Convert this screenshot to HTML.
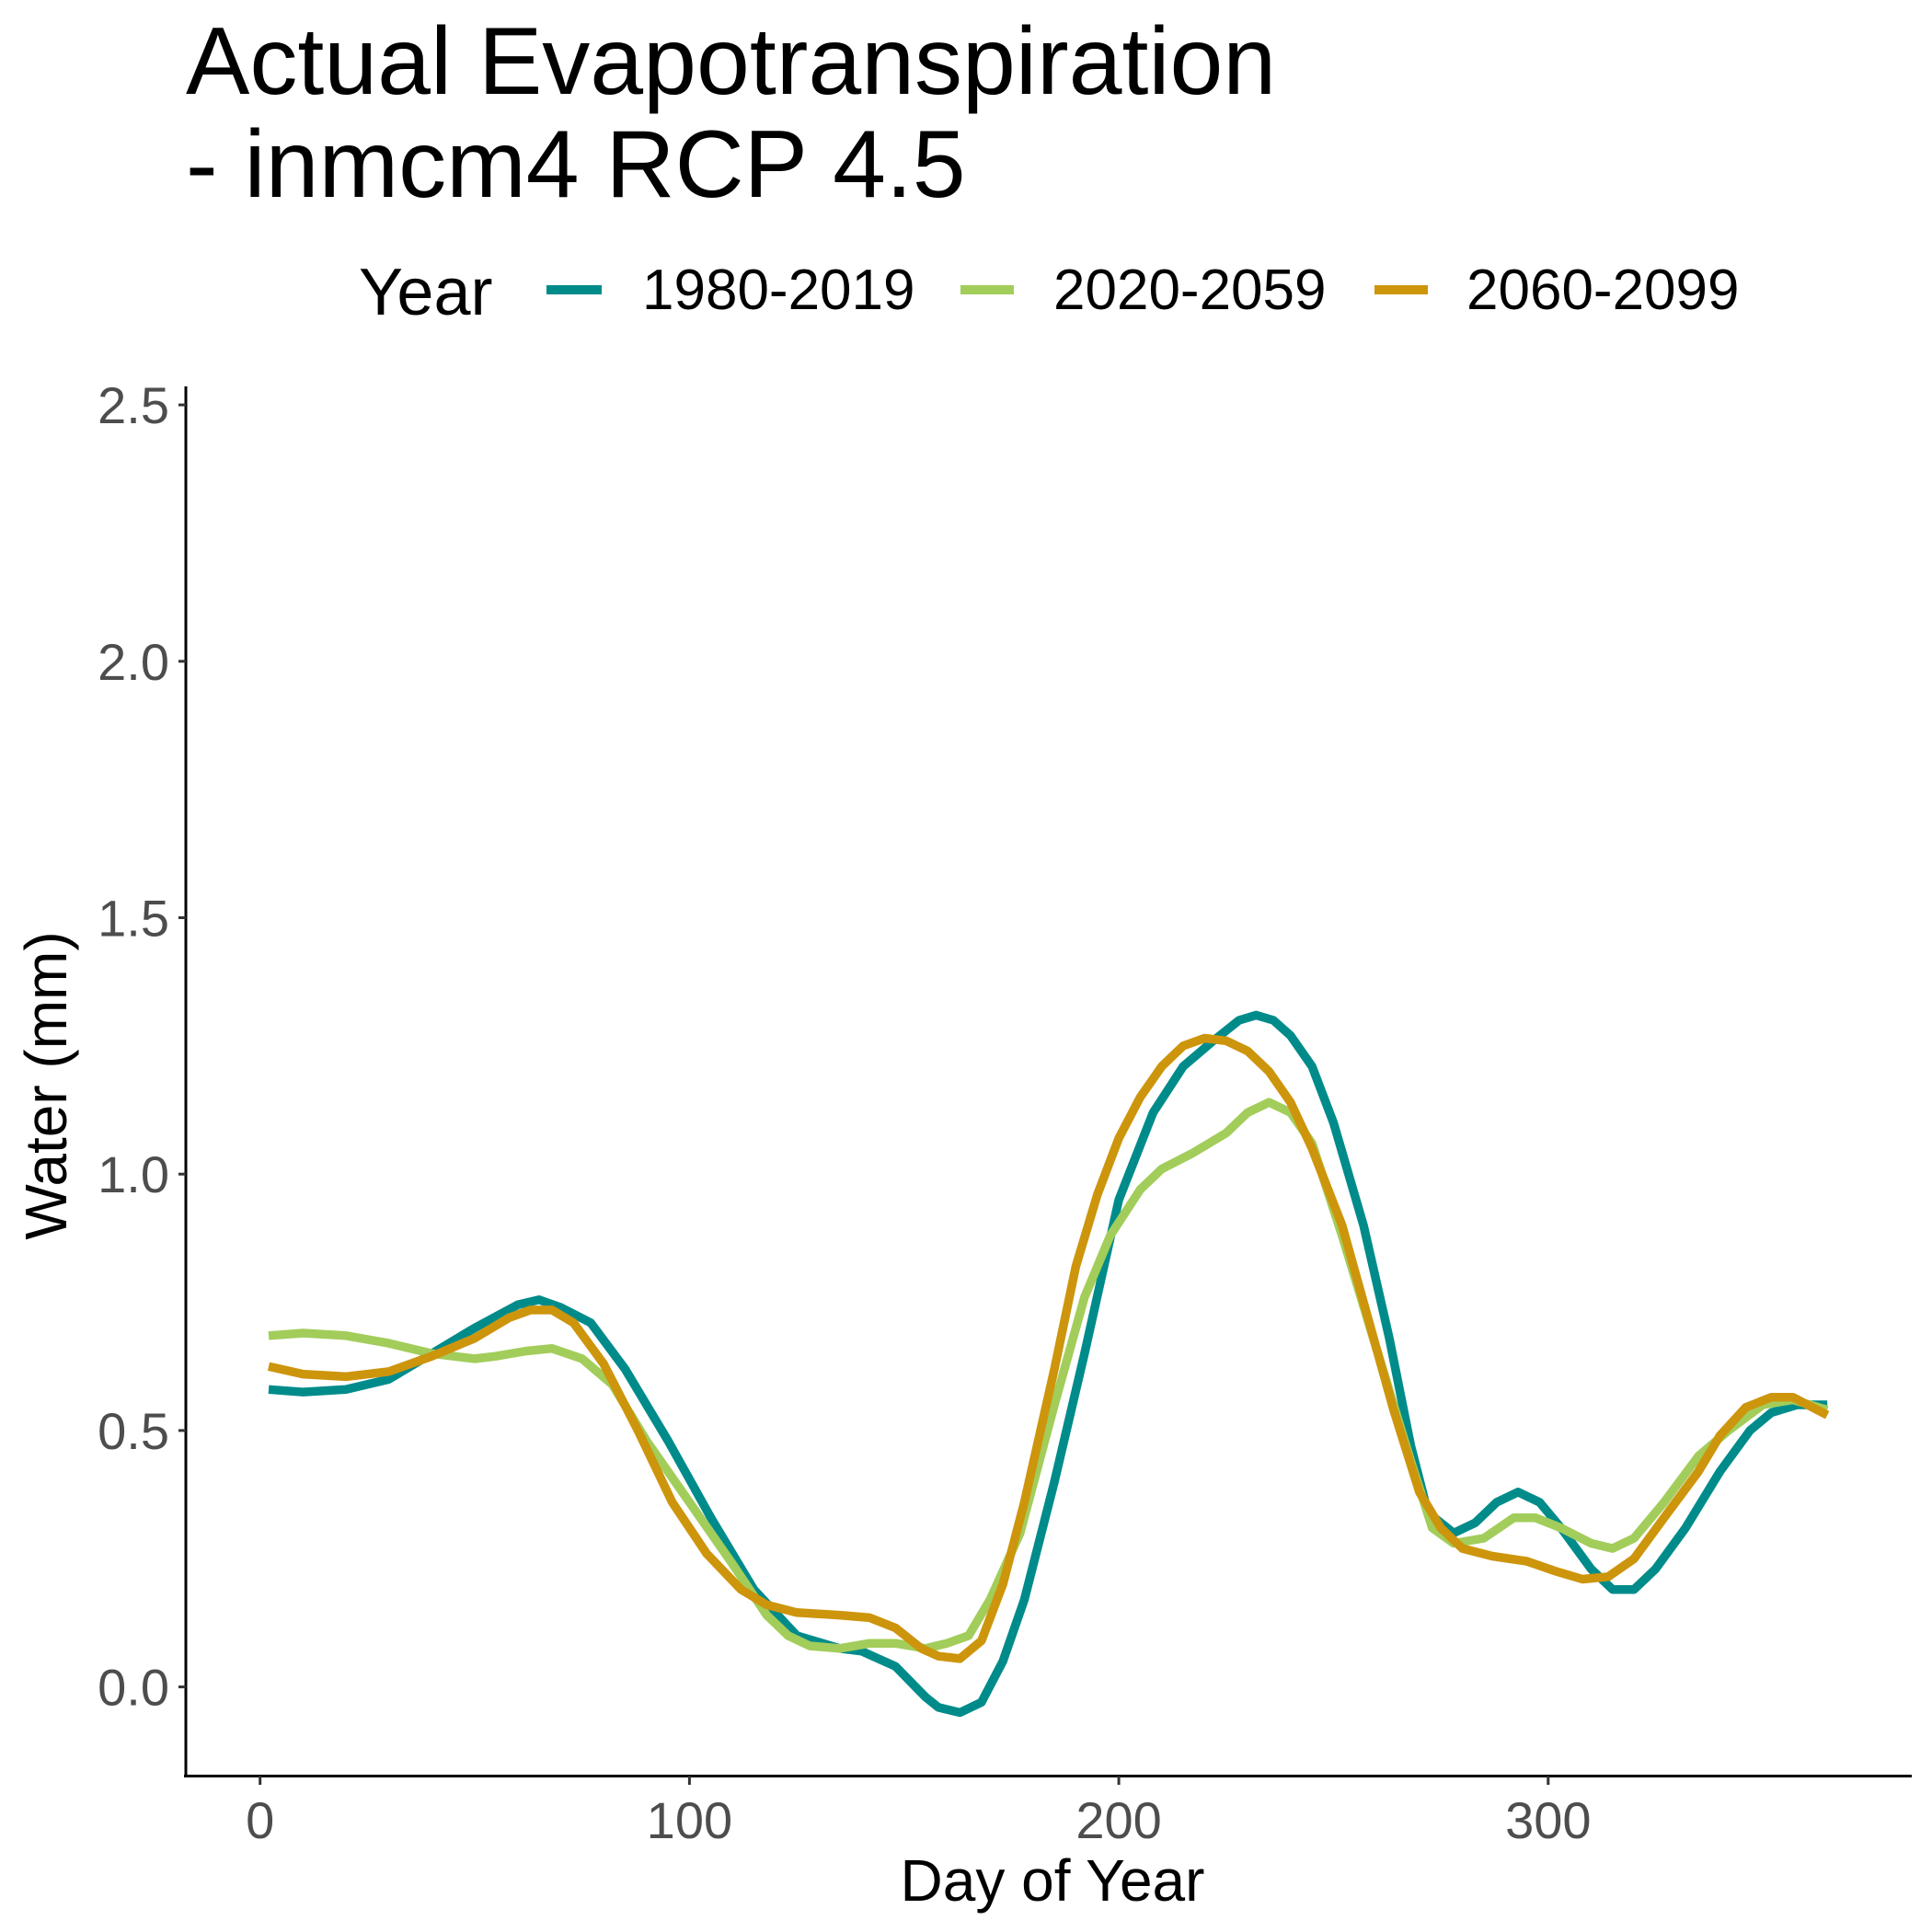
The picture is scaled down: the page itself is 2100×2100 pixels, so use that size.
<!DOCTYPE html>
<html><head><meta charset="utf-8"><style>
html,body{margin:0;padding:0;background:#fff;}
svg{display:block;font-family:"Liberation Sans",sans-serif;}
</style></head><body>
<svg id="chart" width="2100" height="2100" viewBox="0 0 2100 2100">
<text x="202" y="102" font-size="104" fill="#000">Actual Evapotranspiration</text>
<text x="202" y="214" font-size="104" fill="#000">- inmcm4 RCP 4.5</text>
<g>
<text x="390" y="342" font-size="72" fill="#000">Year</text>
<line x1="594" y1="315" x2="654" y2="315" stroke="#008B8B" stroke-width="10"/>
<text x="698" y="336" font-size="62" fill="#000">1980-2019</text>
<line x1="1044" y1="315" x2="1102" y2="315" stroke="#A2CD5A" stroke-width="10"/>
<text x="1145" y="336" font-size="62" fill="#000">2020-2059</text>
<line x1="1494" y1="315" x2="1552" y2="315" stroke="#CD950C" stroke-width="10"/>
<text x="1594" y="336" font-size="62" fill="#000">2060-2099</text>
</g>
<g id="axes"></g>
<g id="series"></g>
<text x="1144" y="2066" font-size="64" text-anchor="middle" fill="#000">Day of Year</text>
<text transform="translate(72,1180) rotate(-90)" font-size="64" text-anchor="middle" fill="#000">Water (mm)</text>
</svg>
<script>
const xTicks = [0, 100, 200, 300];
const yTicks = [0.0, 0.5, 1.0, 1.5, 2.0, 2.5];
const yTickLabels = ["0.0", "0.5", "1.0", "1.5", "2.0", "2.5"];
const seriesNames = ["1980-2019", "2020-2059", "2060-2099"];
const days1980 = [2,10,20,30,40,50,60,65,70,77,85,95,105,115,125,135,140,148,155,158,163,168,173,178,185,192,200,208,215,222,228,232,236,240,245,250,257,263,268,272,278,283,288,293,298,303,310,315,320,325,332,340,347,352,358,365];
const vals1980 = [0.58,0.575,0.58,0.60,0.65,0.70,0.745,0.755,0.74,0.71,0.62,0.48,0.33,0.19,0.10,0.075,0.07,0.04,-0.02,-0.04,-0.05,-0.03,0.05,0.17,0.40,0.65,0.95,1.12,1.21,1.26,1.30,1.31,1.30,1.27,1.21,1.10,0.90,0.68,0.47,0.34,0.30,0.32,0.36,0.38,0.36,0.31,0.23,0.19,0.19,0.23,0.31,0.42,0.50,0.535,0.55,0.55];
const days2020 = [2,10,20,30,40,50,55,62,68,75,82,90,100,110,118,123,128,135,142,148,155,160,165,170,177,185,192,198,205,210,217,225,230,235,240,245,252,260,268,273,278,285,292,297,303,310,315,320,327,335,342,350,357,365];
const vals2020 = [0.685,0.69,0.685,0.67,0.65,0.64,0.645,0.655,0.66,0.64,0.59,0.48,0.36,0.24,0.14,0.10,0.08,0.075,0.085,0.085,0.075,0.085,0.10,0.17,0.30,0.55,0.76,0.88,0.97,1.01,1.04,1.08,1.12,1.14,1.12,1.06,0.88,0.66,0.44,0.31,0.28,0.29,0.33,0.33,0.31,0.28,0.27,0.29,0.36,0.45,0.50,0.55,0.56,0.54];
const days2060 = [2,10,20,30,40,50,58,63,68,73,80,88,96,104,112,118,125,135,142,148,154,158,163,168,173,178,185,190,195,200,205,210,215,220,225,230,235,240,245,252,258,264,270,275,280,287,295,302,308,314,320,327,335,340,346,352,357,365];
const vals2060 = [0.625,0.61,0.605,0.615,0.645,0.68,0.72,0.735,0.735,0.71,0.63,0.50,0.36,0.26,0.19,0.16,0.145,0.14,0.135,0.115,0.075,0.06,0.055,0.09,0.20,0.36,0.62,0.82,0.96,1.07,1.15,1.21,1.25,1.265,1.26,1.24,1.20,1.14,1.05,0.90,0.72,0.54,0.38,0.31,0.27,0.255,0.245,0.225,0.21,0.215,0.25,0.33,0.42,0.49,0.545,0.565,0.565,0.53];

const NS = "http://www.w3.org/2000/svg";
const X0 = 282.7, XPD = 4.667;
const Y0 = 1833.6, YPU = 557.4;
function xScale(d){ return X0 + d * XPD; }
function yScale(v){ return Y0 - v * YPU; }
const axes = document.getElementById('axes');
const series = document.getElementById('series');
function mk(tag, attrs, parent){ const e = document.createElementNS(NS, tag); for (const k in attrs) e.setAttribute(k, attrs[k]); parent.appendChild(e); return e; }

const yAxis = mk('line', {x1:202, y1:420, x2:202, y2:1932, stroke:'#000', 'stroke-width':3}, axes);


const xAxis = mk('line', {x1:200, y1:1930.5, x2:2078, y2:1930.5, stroke:'#000', 'stroke-width':3}, axes);



yTicks.forEach((t, i) => {
  const y = yScale(t);
  const tk = mk('line', {x1:194, y1:y, x2:202, y2:y, stroke:'#333', 'stroke-width':3}, axes);
  
  
  const lb = mk('text', {x:184, y:y+20, 'font-size':56, 'text-anchor':'end', fill:'#4d4d4d'}, axes);
  lb.textContent = yTickLabels[i];
  
  
});
xTicks.forEach(t => {
  const x = xScale(t);
  const tk = mk('line', {x1:x, y1:1930.5, x2:x, y2:1940, stroke:'#333', 'stroke-width':3}, axes);
  
  
  const lb = mk('text', {x:x, y:1998, 'font-size':56, 'text-anchor':'middle', fill:'#4d4d4d'}, axes);
  lb.textContent = String(t);
  
  
});

const allDays = [days1980, days2020, days2060];
const allVals = [vals1980, vals2020, vals2060];
const colors = ['#008B8B', '#A2CD5A', '#CD950C'];
allDays.forEach((days, s) => {
  const pts = days.map((d, i) => xScale(d).toFixed(1) + ',' + yScale(allVals[s][i]).toFixed(1)).join(' ');
  const pl = mk('polyline', {points:pts, fill:'none', stroke:colors[s], 'stroke-width':9.5, 'stroke-linejoin':'round'}, series);
  
  
});
</script>
</body></html>
